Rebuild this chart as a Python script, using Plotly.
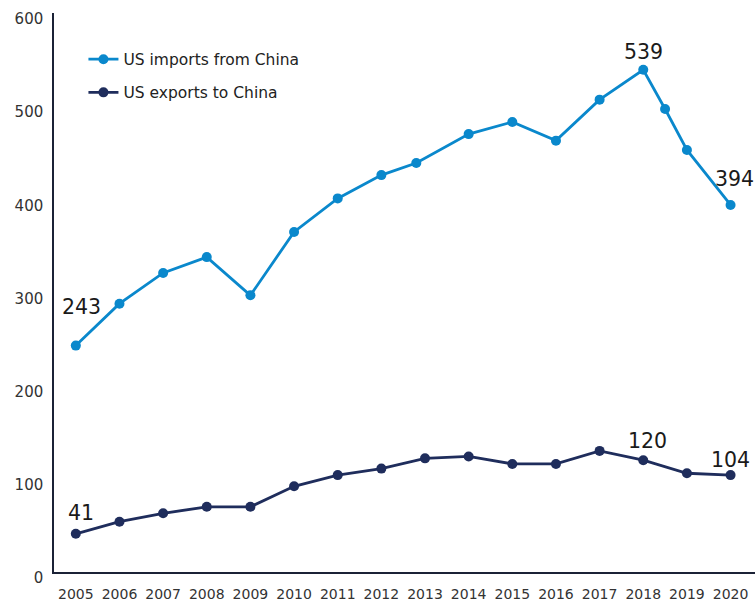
import plotly.graph_objects as go

# US-China goods trade, USD billions
import_years = [2005, 2006, 2007, 2008, 2009, 2010, 2011, 2012, 2012.8,
                2014, 2015, 2016, 2017, 2018, 2018.5, 2019, 2020]
us_imports = [243, 288, 321, 338, 297, 365, 401, 426, 439,
              470, 483, 463, 507, 539, 497, 453, 394]

export_years = [2005, 2006, 2007, 2008, 2009, 2010, 2011, 2012, 2013,
                2014, 2015, 2016, 2017, 2018, 2019, 2020]
us_exports = [41, 54, 63, 70, 70, 92, 104, 111, 122,
              124, 116, 116, 130, 120, 106, 104]

year_ticks = list(range(2005, 2021))
value_ticks = [0, 100, 200, 300, 400, 500, 600]

IMPORT_COLOR = "#0a88cc"
EXPORT_COLOR = "#1f2d5c"
AXIS_COLOR = "#1b2236"
FONT = "DejaVu Sans"

fig = go.Figure()
fig.add_trace(go.Scatter(
    x=import_years, y=us_imports, mode="lines+markers",
    name="US imports from China", legendgroup="imp",
    line=dict(color=IMPORT_COLOR, width=2.8),
    marker=dict(color=IMPORT_COLOR, size=10),
))
fig.add_trace(go.Scatter(
    x=export_years, y=us_exports, mode="lines+markers",
    name="US exports to China", legendgroup="exp",
    line=dict(color=EXPORT_COLOR, width=2.8),
    marker=dict(color=EXPORT_COLOR, size=10),
))

# value callouts: (x, y, xshift, yshift)
callouts = [
    (import_years[0], us_imports[0], 6, 39),
    (import_years[13], us_imports[13], 0, 18),
    (import_years[-1], us_imports[-1], 4, 26),
    (export_years[0], us_exports[0], 5, 21),
    (export_years[13], us_exports[13], 4, 19),
    (export_years[-1], us_exports[-1], 0, 15),
]
for x, y, dx, dy in callouts:
    fig.add_annotation(
        x=x, y=y, xref="x", yref="y", text=str(y), showarrow=False,
        xshift=dx, yshift=dy, font=dict(family=FONT, size=20.5, color="#1a1a1a"),
    )

fig.update_layout(
    width=755, height=602,
    margin=dict(l=54, r=0, t=13, b=30),
    paper_bgcolor="white", plot_bgcolor="white",
    font=dict(family=FONT, color="#333333"),
    showlegend=True,
    legend=dict(
        x=0.042, y=0.947, xanchor="left", yanchor="top",
        bgcolor="rgba(0,0,0,0)", traceorder="grouped", tracegroupgap=10,
        font=dict(family=FONT, size=15.5, color="#222222"),
    ),
)
fig.update_xaxes(
    range=[2004.5, 2020.56], tickmode="array", tickvals=year_ticks,
    ticktext=[str(y) for y in year_ticks],
    showgrid=False, zeroline=False, showline=True,
    linecolor=AXIS_COLOR, linewidth=1.5, ticks="",
    tickfont=dict(family=FONT, size=14, color="#333333"),
    ticklabelstandoff=8,
)
fig.update_yaxes(
    range=[0, 600], tickmode="array", tickvals=value_ticks,
    showgrid=False, zeroline=False, showline=True,
    linecolor=AXIS_COLOR, linewidth=1.5, ticks="",
    tickfont=dict(family=FONT, size=15, color="#333333"),
    ticklabelstandoff=6, ticklabelshift=6,
)

fig.write_html("out.html")
